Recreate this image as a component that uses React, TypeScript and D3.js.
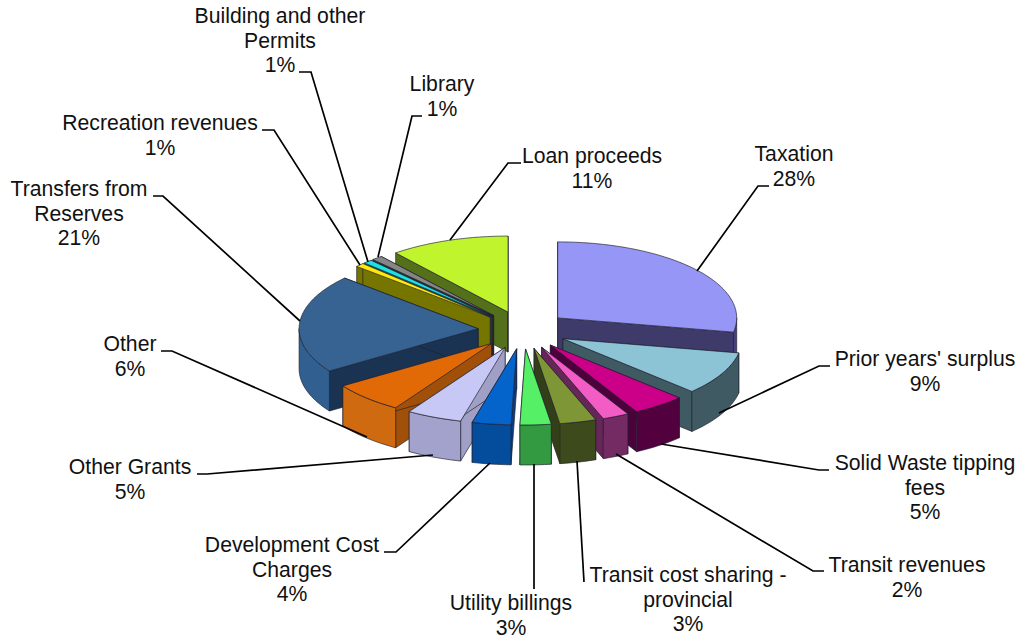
import React, { useRef, useEffect } from 'react';
import { select, pie, range, line } from 'd3';

const WIDTH = 1023;
const HEIGHT = 641;

// shown clockwise from 12 o'clock
const categories = [
  'Taxation', "Prior years' surplus", 'Solid Waste tipping fees', 'Transit revenues',
  'Transit cost sharing - provincial', 'Utility billings', 'Development Cost Charges',
  'Other Grants', 'Other', 'Transfers from Reserves', 'Recreation revenues',
  'Building and other Permits', 'Library', 'Loan proceeds',
];
const values = [28, 9.2, 4.8, 2.4, 3.3, 2.8, 3.5, 5, 6.6, 21, 0.8, 0.8, 1, 10.8];
const percentLabels = ['28%', '9%', '5%', '2%', '3%', '3%', '4%', '5%', '6%', '21%', '1%', '1%', '1%', '11%'];

const topColors = ['#9696f6', '#8cc4d6', '#cc0088', '#f25cc4', '#7f9636', '#55f066', '#0464cc', '#c8c8f6', '#e26a06', '#366392', '#ffe80c', '#1ce0e6', '#868686', '#c0f52e'];
const outerColors = ['#46417e', '#3f5a62', '#52003e', '#742a62', '#3c4a1c', '#349a42', '#044c9c', '#a2a2cc', '#d06a10', '#305f90', '#7a7a00', '#0e7073', '#444444', '#5a7a18'];
const wallColors = ['#3e3a6a', '#3f5a62', '#4c003c', '#662658', '#333f18', '#2a7c36', '#0a3c80', '#a0a0c6', '#a05008', '#1a3352', '#757500', '#0b5a5c', '#2c2c2c', '#55701a'];

// label lines (without the percent), centre x, first baseline
const labelLines = [
  ['Taxation'], ["Prior years' surplus"], ['Solid Waste tipping', 'fees'], ['Transit revenues'],
  ['Transit cost sharing -', 'provincial'], ['Utility billings'], ['Development Cost', 'Charges'],
  ['Other Grants'], ['Other'], ['Transfers from', 'Reserves'], ['Recreation revenues'],
  ['Building and other', 'Permits'], ['Library'], ['Loan proceeds'],
];
const labelX = [794, 925, 925, 907, 688, 511, 292, 130, 130, 79, 160, 280, 442, 592];
const labelY = [161, 366, 470, 572, 582, 610, 552, 474, 351, 196, 130, 23, 91, 163];

const leaders: [number, number][][] = [
  [[769, 186], [758, 186], [697, 271]],
  [[830, 366], [819, 366], [719, 413]],
  [[829, 470], [819, 470], [661, 444]],
  [[824, 571], [813, 571], [616, 454]],
  [[584, 582], [577, 461]],
  [[534, 589], [534, 464]],
  [[384, 552], [396, 552], [490, 463]],
  [[197, 474], [207, 474], [433, 455]],
  [[161, 351], [172, 351], [367, 437]],
  [[153, 196], [163, 196], [300, 321]],
  [[262, 130], [274, 130], [360, 265]],
  [[299, 72], [311, 72], [368, 262]],
  [[422, 116], [412, 116], [378, 257]],
  [[521, 163], [508, 163], [450, 240]],
];

const cx = 523;
const cy = 330;
const rx = 179;
const ry = 76;
const explodeX = 45;
const explodeY = 19;
const depth = 40;

function App() {
  const svgRef = useRef<SVGSVGElement>(null);

  useEffect(() => {
    const svg = select(svgRef.current);
    svg.selectAll('*').remove();

    const arcs = pie<number>().sort(null).value((d) => d)(values);
    const slices = arcs.map((a, i) => {
      const mid = (a.startAngle + a.endAngle) / 2;
      return {
        i,
        mid,
        start: a.startAngle,
        end: a.endAngle,
        ax: cx + explodeX * Math.sin(mid),
        ay: cy - explodeY * Math.cos(mid),
      };
    });
    type Slice = (typeof slices)[number];

    const rim = (s: Slice, t: number, dz = 0): [number, number] => [
      s.ax + rx * Math.sin(t),
      s.ay - ry * Math.cos(t) + dz,
    ];
    const arcPoints = (s: Slice, a0: number, a1: number, dz = 0) => {
      const n = Math.max(2, Math.ceil((a1 - a0) / 0.02));
      return range(n + 1).map((k) => rim(s, a0 + ((a1 - a0) * k) / n, dz));
    };
    const path = line();
    const closed = (pts: [number, number][]) => `${path(pts)}Z`;

    const g = svg.append('g').attr('stroke-linejoin', 'round');
    const face = (d: string, fill: string) =>
      g.append('path')
        .attr('d', d)
        .attr('fill', fill)
        .attr('stroke', '#20202e')
        .attr('stroke-opacity', 0.75)
        .attr('stroke-width', 0.9);

    // back slices first
    [...slices]
      .sort((p, q) => Math.cos(q.mid) - Math.cos(p.mid))
      .forEach((s) => {
        const apex: [number, number] = [s.ax, s.ay];
        const apexLow: [number, number] = [s.ax, s.ay + depth];
        face(closed([apex, rim(s, s.start), rim(s, s.start, depth), apexLow]), wallColors[s.i]);
        face(closed([apex, rim(s, s.end), rim(s, s.end, depth), apexLow]), wallColors[s.i]);
        // only the part of the rim facing the viewer
        const a0 = Math.max(s.start, Math.PI / 2);
        const a1 = Math.min(s.end, (3 * Math.PI) / 2);
        if (a1 > a0) {
          const upper = arcPoints(s, a0, a1);
          const lower = arcPoints(s, a0, a1, depth).reverse();
          face(closed([...upper, ...lower]), outerColors[s.i]);
        }
        face(closed([apex, ...arcPoints(s, s.start, s.end)]), topColors[s.i]);
      });

    svg.append('g')
      .selectAll('path')
      .data(leaders)
      .join('path')
      .attr('d', (d) => path(d))
      .attr('fill', 'none')
      .attr('stroke', '#000')
      .attr('stroke-width', 1.7);

    const text = svg.append('g')
      .attr('font-family', '"Liberation Sans", Arial, sans-serif')
      .attr('font-size', 21.2)
      .attr('fill', '#111')
      .attr('text-anchor', 'middle');
    categories.forEach((_, i) => {
      [...labelLines[i], percentLabels[i]].forEach((t, k) => {
        text.append('text')
          .attr('x', labelX[i])
          .attr('y', labelY[i] + k * 24.6)
          .text(t);
      });
    });
  }, []);

  return (
    <svg
      ref={svgRef}
      width={WIDTH}
      height={HEIGHT}
      style={{ position: 'absolute', left: 0, top: 0, background: '#fff' }}
    ></svg>
  );
}

export default App;
